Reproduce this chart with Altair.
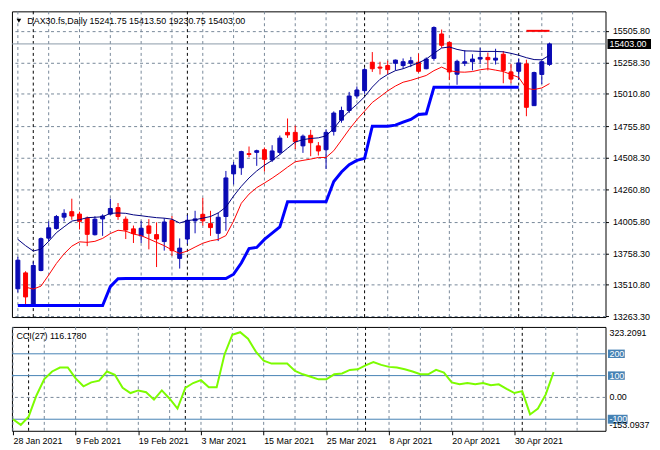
import altair as alt
import pandas as pd

FONT = "Liberation Sans"
GRID = "#778899"
BULL = "#0A0AB4"
BEAR = "#FF0000"

# ---------------- data ----------------
idx = list(range(70))
opens = [13479, 13604, 13352, 13623, 13877, 13953, 14042, 14085, 14066, 14034,
         13904, 14028, 14066, 14117, 14026, 13950, 13895, 13973, 13905, 13850,
         14017, 13718, 13870, 14013, 14064, 13991, 13915, 14047, 14382, 14430,
         14541, 14551, 14572, 14491, 14551, 14708, 14708, 14602, 14685, 14602,
         14572, 14716, 14804, 14880, 14994, 15036, 15259, 15221, 15233, 15251,
         15233, 15251, 15259, 15208, 15289, 15481, 15415, 15165, 15251, 15263,
         15284, 15297, 15276, 15322, 15183, 15188, 15246, 14918, 15163, 15241.75]
highs = [13730, 13617, 13693, 13882, 14009, 14059, 14104, 14187, 14085, 14047,
         14049, 14064, 14187, 14153, 14047, 13976, 14013, 14026, 14001, 14034,
         14051, 13875, 14059, 14092, 14193, 14092, 14077, 14405, 14475, 14564,
         14597, 14572, 14589, 14607, 14683, 14817, 14761, 14691, 14728, 14632,
         14733, 14873, 14910, 15026, 15069, 15213, 15339, 15263, 15271, 15280,
         15289, 15301, 15327, 15297, 15541, 15516, 15422, 15279, 15354, 15322,
         15372, 15335, 15365, 15347, 15246, 15289, 15279, 15185, 15271, 15413.5]
lows = [13450, 13352, 13344, 13617, 13850, 13943, 14009, 14021, 13945, 13814,
        13898, 13895, 14059, 14021, 13870, 13839, 13839, 13789, 13650, 13779,
        13738, 13638, 13832, 13915, 13976, 13895, 13854, 13935, 14299, 14374,
        14513, 14445, 14400, 14475, 14532, 14665, 14577, 14547, 14521, 14526,
        14420, 14683, 14784, 14860, 14973, 15011, 15183, 15163, 15163, 15195,
        15208, 15221, 15178, 15204, 15271, 15372, 15119, 15082, 15229, 15195,
        15246, 15195, 15241, 15094, 15094, 15119, 14835, 14916, 15087, 15230.75]
closes = [13704, 13415, 13662, 13873, 13958, 14047, 14072, 14051, 14009, 13907,
          14026, 14051, 14110, 14047, 13941, 13913, 13955, 13915, 13870, 14004,
          13779, 13799, 14017, 14028, 14013, 13960, 14041, 14350, 14450, 14557,
          14534, 14564, 14496, 14562, 14663, 14688, 14635, 14678, 14627, 14562,
          14708, 14860, 14880, 14994, 15041, 15201, 15208, 15213, 15201, 15276,
          15263, 15271, 15188, 15284, 15532, 15392, 15183, 15266, 15263, 15284,
          15297, 15279, 15291, 15195, 15127, 15254, 14905, 15178, 15263, 15403]
ma_fast = [13867, 13818, 13776, 13791, 13852, 13920, 13966, 14011, 14022, 14038,
           14041, 14045, 14072, 14075, 14072, 14060, 14053, 14045, 14038, 14034,
           14026, 13996, 14015, 14022, 14034, 14047, 14075, 14121, 14208, 14284,
           14350, 14405, 14450, 14488, 14534, 14583, 14632, 14651, 14660, 14665,
           14681, 14738, 14814, 14875, 14928, 14988, 15064, 15125, 15163, 15193,
           15208, 15231, 15254, 15284, 15329, 15371, 15379, 15360, 15348, 15347,
           15344, 15344, 15344, 15341, 15329, 15314, 15295, 15280, 15278, 15314]
ma_slow = [None, 13492, 13477, 13500, 13587, 13678, 13754, 13814, 13848, 13844,
           13852, 13875, 13913, 13939, 13932, 13909, 13897, 13871, 13844, 13818,
           13784, 13757, 13776, 13807, 13837, 13856, 13867, 13897, 14011, 14151,
           14223, 14274, 14310, 14348, 14390, 14435, 14477, 14488, 14498, 14511,
           14511, 14564, 14647, 14731, 14807, 14875, 14943, 14988, 15034, 15072,
           15102, 15117, 15136, 15155, 15193, 15221, 15193, 15183, 15181, 15186,
           15200, 15208, 15197, 15186, 15163, 15140, 15053, 15045, 15057, 15091]
support = ([13348] * 12 + [13496, 13558] + [13560] * 14 +
           [13594, 13682, 13795, 13804, 13867, 13916, 13966] + [14163] * 6 +
           [14322, 14397, 14454, 14488, 14504] + [14757] * 3 +
           [14765, 14788, 14810, 14848, 14854] + [15062] * 12 + [None] * 4)
cci_vals = [-100, -126, -88, 9, 84, 119, 137, 137, 87, 51,
            69, 77, 119, 104, 44, 20, 32, 24, -10, 32,
            -6, -51, 44, 66, 79, 47, 47, 197, 287, 299,
            269, 210, 168, 155, 155, 155, 121, 106, 95, 83,
            83, 106, 110, 126, 129, 147, 162, 149, 140, 137,
            129, 119, 106, 106, 126, 114, 69, 60, 66, 60,
            66, 56, 60, 39, 20, 29, -78, -51, 14, 116.178]

price_ticks = [13263.3, 13510.8, 13758.3, 14005.8, 14260.8, 14508.3,
               14755.8, 15010.8, 15258.3, 15505.8]
label_idx = [0, 8, 16, 24, 32, 40, 48, 56, 64]
label_txt = ["28 Jan 2021", "9 Feb 2021", "19 Feb 2021", "3 Mar 2021",
             "15 Mar 2021", "25 Mar 2021", "8 Apr 2021", "20 Apr 2021",
             "30 Apr 2021"]
grid_idx = list(range(0, 76, 4))
sep_idx = [2, 22, 45, 65]
last_price = 15403.0
prev_high = 15505.8
title_txt = "DAX30.fs,Daily  15241.75 15413.50 19230.75 15403.00"
cci_title = "CCI(27) 116.1780"
cci_levels = [200, 100, -100]

# ---------------- layout ----------------
W, H1, H2 = 600, 309, 105
XS = alt.Scale(domain=[-0.125, 75.625], nice=False, zero=False)
PS = alt.Scale(domain=[13257.2, 15658.8], nice=False, zero=False)
CS = alt.Scale(domain=[-153.0937, 323.2091], nice=False, zero=False)

PRICE_AXIS = alt.Axis(orient="right", values=price_ticks, format=".2f", grid=True,
                      gridColor=GRID, gridDash=[3, 3], gridWidth=1, domain=False,
                      ticks=True, tickSize=3, tickColor="black", labelFont=FONT,
                      labelFontSize=9, labelColor="black", labelPadding=4, title=None,
                      labelOverlap=False, labelBound=False, labelFlush=False)
expr_arr = "[" + ",".join("'" + t + "'" for t in label_txt) + "]"
X_AXIS = alt.Axis(values=label_idx, labelExpr=expr_arr + "[round(datum.value / 8)]",
                  labelAlign="left", labelBaseline="top", labelPadding=2, tickSize=4,
                  tickColor="black", domain=False, grid=False, title=None,
                  labelFont=FONT, labelFontSize=9, labelColor="black",
                  labelFlush=False, labelOverlap=False, labelBound=False)

df = pd.DataFrame(dict(i=idx, open=opens, high=highs, low=lows, close=closes,
                       ma_fast=ma_fast, ma_slow=ma_slow, support=support, cci=cci_vals))
df["dir"] = ["up" if c >= o else "down" for o, c in zip(opens, closes)]
dir_scale = alt.Scale(domain=["up", "down"], range=[BULL, BEAR])

xm = alt.X("i:Q", scale=XS, axis=None)


def py(f):
    return alt.Y(f, scale=PS, axis=PRICE_AXIS)


BOX_WIDE = "M-1,-0.23H1V0.23H-1Z"
BOX_A = "M-1,-0.5H1V0.5H-1Z"
BOX_B = "M-1,-0.45H1V0.45H-1Z"

vgrid = alt.Chart(pd.DataFrame({"i": grid_idx})).mark_rule(
    color=GRID, strokeDash=[3, 3], strokeWidth=1).encode(x=xm)
seps = alt.Chart(pd.DataFrame({"i": sep_idx})).mark_rule(
    color="black", strokeDash=[3, 3], strokeWidth=1).encode(x=xm)
last_line = alt.Chart(pd.DataFrame({"v": [last_price]})).mark_rule(
    color="#8C9AA8", strokeWidth=1).encode(y=py("v:Q"))
wicks = alt.Chart(df).mark_rule(strokeWidth=1).encode(
    x=xm, y=py("low:Q"), y2="high:Q",
    color=alt.Color("dir:N", scale=dir_scale, legend=None))
bodies = alt.Chart(df).mark_bar(size=4, strokeWidth=1).encode(
    x=xm, y=py("open:Q"), y2="close:Q",
    color=alt.Color("dir:N", scale=dir_scale, legend=None),
    stroke=alt.Stroke("dir:N", scale=dir_scale, legend=None))
sup = alt.Chart(df).mark_line(color="#0000FF", strokeWidth=3).encode(
    x=xm, y=py("support:Q"))
slow = alt.Chart(df).mark_line(color="#FF0000", strokeWidth=1).encode(
    x=xm, y=py("ma_slow:Q"))
fast = alt.Chart(df).mark_line(color="#000080", strokeWidth=1).encode(
    x=xm, y=py("ma_fast:Q"))
redseg = alt.Chart(pd.DataFrame({"i": [66], "i2": [69], "v": [prev_high]})).mark_rule(
    color="#FF0000", strokeWidth=2).encode(x=xm, x2="i2:Q", y=py("v:Q"))
tri = alt.Chart(pd.DataFrame({"t": [""]})).mark_point(
    shape="triangle-down", filled=True, color="black", size=22, opacity=1).encode(
    x=alt.value(7), y=alt.value(9.5))
title = alt.Chart(pd.DataFrame({"t": [title_txt]})).mark_text(
    align="left", baseline="middle", font=FONT, fontSize=9, color="black").encode(
    x=alt.value(15.5), y=alt.value(9.5), text="t:N")
pbox = alt.Chart(pd.DataFrame({"v": [last_price]})).mark_point(
    shape=BOX_WIDE, filled=True, color="black", size=44 * 44, opacity=1).encode(
    x=alt.value(W + 24), y=py("v:Q"))
ptext = alt.Chart(pd.DataFrame({"v": [last_price], "t": ["15403.00"]})).mark_text(
    align="left", baseline="middle", font=FONT, fontSize=9, color="white").encode(
    x=alt.value(W + 4), y=py("v:Q"), text="t:N")

main = alt.layer(vgrid, seps, last_line, wicks, bodies, sup, slow, fast, redseg,
                 tri, title, pbox, ptext).properties(width=W, height=H1)

# ---------------- CCI panel ----------------
cx = alt.X("i:Q", scale=XS, axis=X_AXIS)


def cy(f):
    return alt.Y(f, scale=CS, axis=None)


vgrid2 = alt.Chart(pd.DataFrame({"i": grid_idx})).mark_rule(
    color=GRID, strokeDash=[3, 3], strokeWidth=1).encode(x=cx)
seps2 = alt.Chart(pd.DataFrame({"i": sep_idx})).mark_rule(
    color="black", strokeDash=[3, 3], strokeWidth=1).encode(x=cx)
levels = alt.Chart(pd.DataFrame({"v": cci_levels})).mark_rule(
    color="#4682B4", strokeWidth=1).encode(y=cy("v:Q"))
zero = alt.Chart(pd.DataFrame({"v": [0]})).mark_rule(
    color=GRID, strokeDash=[3, 3], strokeWidth=1).encode(y=cy("v:Q"))
cline = alt.Chart(df).mark_line(color="#7CFC00", strokeWidth=2).encode(
    x=cx, y=cy("cci:Q"))
ctitle = alt.Chart(pd.DataFrame({"t": [cci_title]})).mark_text(
    align="left", baseline="middle", font=FONT, fontSize=9, color="black").encode(
    x=alt.value(4.5), y=alt.value(9.7), text="t:N")
boxA = alt.Chart(pd.DataFrame({"v": [200, 100]})).mark_point(
    shape=BOX_A, filled=True, color="#4682B4", size=17 * 17, opacity=1).encode(
    x=alt.value(W + 11), y=cy("v:Q"))
boxB = alt.Chart(pd.DataFrame({"v": [-100]})).mark_point(
    shape=BOX_B, filled=True, color="#4682B4", size=20 * 20, opacity=1).encode(
    x=alt.value(W + 12.3), y=cy("v:Q"))
lvl_txt = alt.Chart(pd.DataFrame({"v": [200, 100, -100], "t": ["200", "100", "-100"]})).mark_text(
    align="left", baseline="middle", font=FONT, fontSize=9, color="white").encode(
    x=alt.value(W + 4), y=cy("v:Q"), text="t:N")
zero_txt = alt.Chart(pd.DataFrame({"v": [0], "t": ["0.00"]})).mark_text(
    align="left", baseline="middle", font=FONT, fontSize=9, color="black").encode(
    x=alt.value(W + 4), y=cy("v:Q"), text="t:N")
top_txt = alt.Chart(pd.DataFrame({"v": [323.2091], "t": ["323.2091"]})).mark_text(
    align="left", baseline="top", dy=2, font=FONT, fontSize=9, color="black").encode(
    x=alt.value(W + 4), y=cy("v:Q"), text="t:N")
bot_txt = alt.Chart(pd.DataFrame({"v": [-153.0937], "t": ["-153.0937"]})).mark_text(
    align="left", baseline="bottom", dy=-1, font=FONT, fontSize=9, color="black").encode(
    x=alt.value(W + 4), y=cy("v:Q"), text="t:N")

cci_panel = alt.layer(vgrid2, seps2, levels, zero, cline, ctitle, boxA, boxB,
                      lvl_txt, zero_txt, top_txt, bot_txt).properties(width=W, height=H2)

chart = alt.vconcat(main, cci_panel, spacing=4).properties(
    padding=0, background="white"
).configure_view(stroke="black", strokeWidth=1)

chart.save("out.html", embed_options={"renderer": "svg", "actions": False})
